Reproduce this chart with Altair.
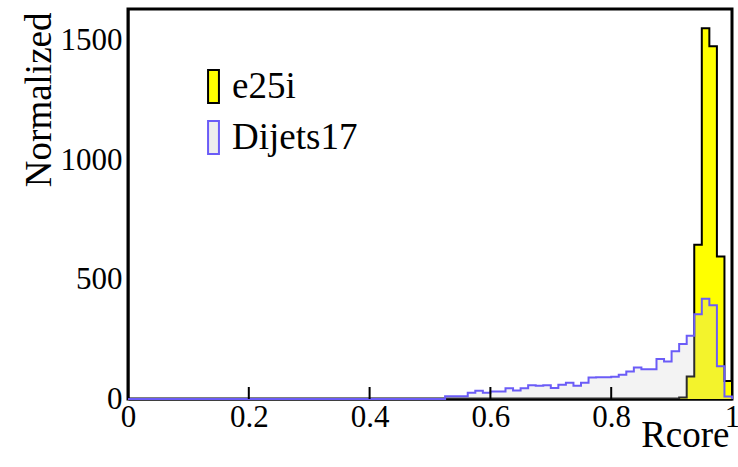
import altair as alt
import pandas as pd

# bin low edges (80 bins from 0 to 1)
bin_edges = [i / 80 for i in range(80)]

e25i = [
    0, 0, 0, 0, 0, 0, 0, 0, 0, 0,
    0, 0, 0, 0, 0, 0, 0, 0, 0, 0,
    0, 0, 0, 0, 0, 0, 0, 0, 0, 0,
    0, 0, 0, 0, 0, 0, 0, 0, 0, 0,
    0, 0, 0, 0, 0, 0, 0, 0, 0, 0,
    0, 0, 0, 0, 0, 0, 0, 0, 0, 0,
    0, 0, 0, 0, 0, 0, 0, 0, 0, 0,
    0, 0, 0, 6, 94, 645, 1551, 1476, 596, 75,
]

dijets17 = [
    0, 0, 0, 0, 0, 0, 0, 0, 0, 0,
    0, 0, 0, 0, 0, 0, 0, 0, 0, 0,
    0, 0, 0, 0, 0, 0, 0, 0, 0, 0,
    0, 0, 0, 0, 0, 0, 0, 0, 0, 0,
    0, 0, 12, 12, 12, 26, 35, 26, 31, 31,
    45, 36, 45, 58, 55, 58, 46, 60, 68, 55,
    68, 90, 91, 91, 93, 101, 115, 132, 125, 125,
    167, 157, 200, 230, 265, 355, 420, 392, 137, 10,
]

x_ticks = [0, 0.2, 0.4, 0.6, 0.8, 1.0]
y_ticks = [0, 500, 1000, 1500]

legend_labels = ["e25i", "Dijets17"]
legend_fills = ["#ffff00", "#eeeeee"]
legend_strokes = ["black", "#6b5cf7"]

df = pd.DataFrame({
    "x": bin_edges + [1.0],
    "e25i": e25i + [0],
    "dijets": dijets17 + [0],
})

FONT = "'Liberation Serif', 'Times New Roman', 'DejaVu Serif', serif"
BLUE = "#6b5cf7"

xscale = alt.Scale(domain=[0, 1], nice=False, zero=False)
yscale = alt.Scale(domain=[0, 1632], nice=False)

xaxis = alt.Axis(
    values=x_ticks, format=".1~f", title="Rcore", grid=False, ticks=False,
    labelFont=FONT, labelFontSize=31, labelColor="black", labelPadding=3,
    labelFlush=False, labelOverlap=False,
    titleFont=FONT, titleFontSize=37, titleFontWeight="normal", titleColor="black",
    titleX=601, titleY=47, titleAlign="right", titleBaseline="alphabetic",
    domainColor="black", domainWidth=2,
)
yaxis = alt.Axis(
    values=y_ticks, format="d", title="Normalized", grid=False, ticks=False,
    labelFont=FONT, labelFontSize=31, labelColor="black", labelPadding=6,
    labelOverlap=False, labelFlush=False,
    titleFont=FONT, titleFontSize=37, titleFontWeight="normal", titleColor="black",
    titleX=-78, titleY=3, titleAngle=270, titleAlign="right", titleBaseline="alphabetic",
    domainColor="black", domainWidth=2,
)

def X(field):
    return alt.X(f"{field}:Q", scale=xscale, axis=xaxis)

def Y(field):
    return alt.Y(f"{field}:Q", scale=yscale, axis=yaxis)

base = alt.Chart(df)

e_area = base.mark_area(interpolate="step-after", color="#ffff00").encode(x=X("x"), y=Y("e25i"))
e_line = base.mark_line(interpolate="step-after", color="black", strokeWidth=2).encode(x=X("x"), y=Y("e25i"))
d_area = base.mark_area(interpolate="step-after", color="#c8c8c8", opacity=0.22).encode(x=X("x"), y=Y("dijets"))
d_line = base.mark_line(interpolate="step-after", color=BLUE, strokeWidth=2).encode(x=X("x"), y=Y("dijets"))

ticks = alt.Chart(pd.DataFrame({"t": x_ticks[1:-1]})).mark_rule(color="black", strokeWidth=2).encode(
    x=X("t"), y=alt.value(390), y2=alt.value(378)
)

legend_def = alt.Legend(
    orient="none", legendX=67, legendY=59, padding=0, rowPadding=10,
    labelOffset=0, labelFont=FONT, labelFontSize=37, labelColor="black", labelLimit=0,
    symbolType="M-0.33,-1L0.33,-1L0.33,1L-0.33,1Z", symbolSize=1089,
    symbolStrokeWidth=2, symbolOpacity=1, title=None,
)
leg_df = pd.DataFrame({"series": legend_labels})
legend_layer = alt.Chart(leg_df).mark_point(size=10, strokeWidth=2, opacity=1, filled=True).encode(
    x=alt.value(-300), y=alt.value(-300),
    fill=alt.Fill("series:N", scale=alt.Scale(domain=legend_labels, range=legend_fills), legend=legend_def),
    stroke=alt.Stroke("series:N", scale=alt.Scale(domain=legend_labels, range=legend_strokes), legend=legend_def),
)

chart = alt.layer(
    e_area, e_line, d_area, d_line, ticks, legend_layer
).properties(
    width=604, height=390,
    autosize=alt.AutoSizeParams(type="none"),
    padding={"left": 128, "top": 9, "right": 6, "bottom": 68},
    background="white",
).configure_view(stroke="black", strokeWidth=3)

chart.save("out.html", embed_options={"renderer": "svg", "actions": False})
